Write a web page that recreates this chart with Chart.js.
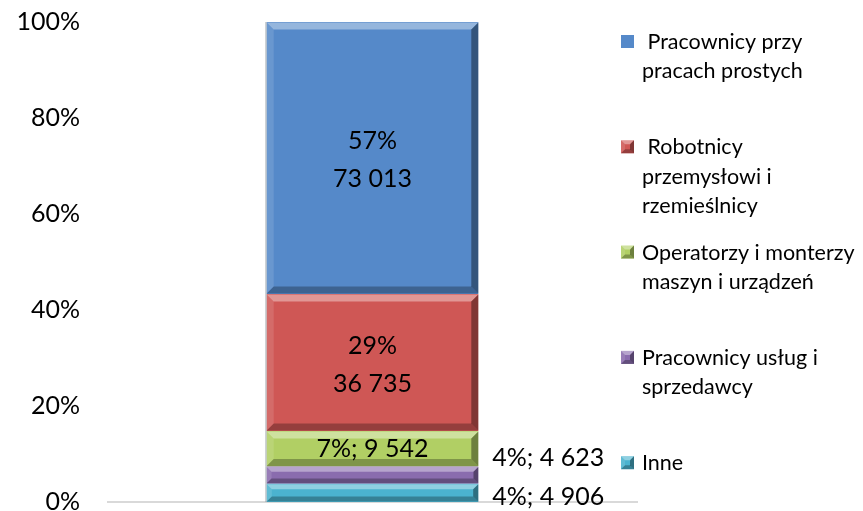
<!DOCTYPE html>
<html lang="pl">
<head>
<meta charset="UTF-8">
<title>Struktura zatrudnienia</title>
<script src="https://cdn.jsdelivr.net/npm/chart.js"></script>
<style>
  html, body { margin: 0; padding: 0; background: #fff; }
  #wrap { width: 863px; height: 511px; position: relative; }
</style>
</head>
<body>
<div id="wrap"><canvas id="wykres"></canvas></div>
<script>
  // grupy zawodów, od dołu słupka do góry
  var grupy = ['Inne', 'Pracownicy usług i sprzedawcy', 'Operatorzy i monterzy maszyn i urządzeń',
    'Robotnicy przemysłowi i rzemieślnicy', 'Pracownicy przy pracach prostych'];
  var liczby = [4906, 4623, 9542, 36735, 73013];
  var kolory = ['#4bb3cf', '#8a6cae', '#b1cf64', '#cf5755', '#5589c9'];
  var osY = ['0%', '20%', '40%', '60%', '80%', '100%'];
  // opisy w legendzie, łamane jak w oryginale
  var legenda = [
    ['Inne'],
    ['Pracownicy usług i', 'sprzedawcy'],
    ['Operatorzy i monterzy', 'maszyn i urządzeń'],
    [' Robotnicy', 'przemysłowi i', 'rzemieślnicy'],
    [' Pracownicy przy', 'pracach prostych']
  ];

  var suma = liczby.reduce(function (a, b) { return a + b; }, 0);
  var udzialy = liczby.map(function (v) { return v / suma * 100; });
  var FONT = 'Lato, "Open Sans", sans-serif';

  function tys(n) {
    return String(n).replace(/\B(?=(\d{3})+(?!\d))/g, ' ');
  }

  // trójwymiarowe krawędzie prostokąta (jak styl "skos" w Excelu)
  function skos(ctx, l, t, r, b, s) {
    ctx.save();
    ctx.fillStyle = 'rgba(255,255,255,0.38)';
    ctx.beginPath();
    ctx.moveTo(l, t); ctx.lineTo(r, t); ctx.lineTo(r - s, t + s); ctx.lineTo(l + s, t + s);
    ctx.closePath(); ctx.fill();
    ctx.fillStyle = 'rgba(255,255,255,0.12)';
    ctx.beginPath();
    ctx.moveTo(l, t); ctx.lineTo(l + s, t + s); ctx.lineTo(l + s, b - s); ctx.lineTo(l, b);
    ctx.closePath(); ctx.fill();
    ctx.fillStyle = 'rgba(0,0,0,0.38)';
    ctx.beginPath();
    ctx.moveTo(r, t); ctx.lineTo(r, b); ctx.lineTo(r - s, b - s); ctx.lineTo(r - s, t + s);
    ctx.closePath(); ctx.fill();
    ctx.fillStyle = 'rgba(0,0,0,0.28)';
    ctx.beginPath();
    ctx.moveTo(l, b); ctx.lineTo(r, b); ctx.lineTo(r - s, b - s); ctx.lineTo(l + s, b - s);
    ctx.closePath(); ctx.fill();
    ctx.restore();
  }

  var skosPlugin = {
    id: 'skos',
    afterDatasetsDraw: function (chart) {
      var ctx = chart.ctx;
      chart.data.datasets.forEach(function (ds, i) {
        var bar = chart.getDatasetMeta(i).data[0];
        var p = bar.getProps(['x', 'y', 'base', 'width'], true);
        var l = p.x - p.width / 2, r = p.x + p.width / 2;
        var t = Math.min(p.y, p.base), b = Math.max(p.y, p.base);
        var s = Math.min(7, (b - t) * 0.28);
        skos(ctx, l, t + 0.5, r, b - 0.5, s);
        // cień z lewej strony
        ctx.save();
        ctx.fillStyle = 'rgba(120,130,140,0.45)';
        ctx.fillRect(l - 1.5, t, 1.5, b - t);
        ctx.restore();
      });
    }
  };

  var etykietyPlugin = {
    id: 'etykiety',
    afterDatasetsDraw: function (chart) {
      var ctx = chart.ctx;
      ctx.save();
      ctx.fillStyle = '#000';
      ctx.font = '25px ' + FONT;
      ctx.textBaseline = 'middle';
      chart.data.datasets.forEach(function (ds, i) {
        var bar = chart.getDatasetMeta(i).data[0];
        var p = bar.getProps(['x', 'y', 'base', 'width'], true);
        var srodek = (p.y + p.base) / 2;
        var proc = Math.round(udzialy[i]) + '%';
        var ile = tys(liczby[i]);
        if (i >= 3) {
          ctx.textAlign = 'center';
          ctx.fillText(proc, p.x, srodek - 17);
          ctx.fillText(ile, p.x, srodek + 21);
        } else if (i === 2) {
          ctx.textAlign = 'center';
          ctx.fillText(proc + '; ' + ile, p.x, srodek);
        } else {
          ctx.textAlign = 'left';
          var dy = i === 1 ? -17 : 4;
          ctx.fillText(proc + '; ' + ile, p.x + p.width / 2 + 14, srodek + dy);
        }
      });
      ctx.restore();
    }
  };

  var legendaPlugin = {
    id: 'legendaBoczna',
    afterDraw: function (chart) {
      var ctx = chart.ctx;
      ctx.save();
      ctx.font = '21.5px ' + FONT;
      ctx.fillStyle = '#000';
      ctx.textBaseline = 'middle';
      ctx.textAlign = 'left';
      var n = legenda.length;
      for (var k = 0; k < n; k++) {
        var i = n - 1 - k; // od góry: ostatnia seria
        var y = 42 + k * 105.3;
        ctx.fillStyle = kolory[i];
        ctx.fillRect(621, y - 7, 13, 13);
        if (k > 0) skos(ctx, 621, y - 7, 634, y + 6, 4);
        ctx.fillStyle = '#000';
        legenda[i].forEach(function (linia, j) {
          ctx.fillText(linia, 642, y + j * 29.5);
        });
      }
      ctx.restore();
    }
  };

  var zbiory = grupy.map(function (g, i) {
    return {
      label: g,
      data: [udzialy[i]],
      backgroundColor: kolory[i],
      borderWidth: 0,
      categoryPercentage: 0.8,
      barPercentage: 0.5
    };
  });

  new Chart(document.getElementById('wykres'), {
    type: 'bar',
    data: { labels: [''], datasets: zbiory },
    options: {
      responsive: true,
      maintainAspectRatio: false,
      animation: false,
      layout: { padding: { top: 22, right: 226, bottom: 9, left: 0 } },
      plugins: { legend: { display: false }, tooltip: { enabled: false } },
      scales: {
        x: {
          stacked: true,
          ticks: { display: false, padding: 0 },
          grid: { display: false, drawTicks: false },
          border: { display: true, color: '#d9d9d9', width: 2 },
          afterFit: function (s) { s.height = 0; s.paddingLeft = 0; s.paddingRight = 0; }
        },
        y: {
          stacked: true,
          min: 0,
          max: 100,
          ticks: {
            stepSize: 20,
            padding: 28,
            color: '#000',
            font: { family: FONT, size: 25 },
            callback: function (v) { return osY[v / 20]; }
          },
          grid: { display: false, drawTicks: false },
          border: { display: false },
          afterFit: function (s) { s.width = 108; s.paddingTop = 0; s.paddingBottom = 0; }
        }
      }
    },
    plugins: [skosPlugin, etykietyPlugin, legendaPlugin]
  });
</script>
</body>
</html>
